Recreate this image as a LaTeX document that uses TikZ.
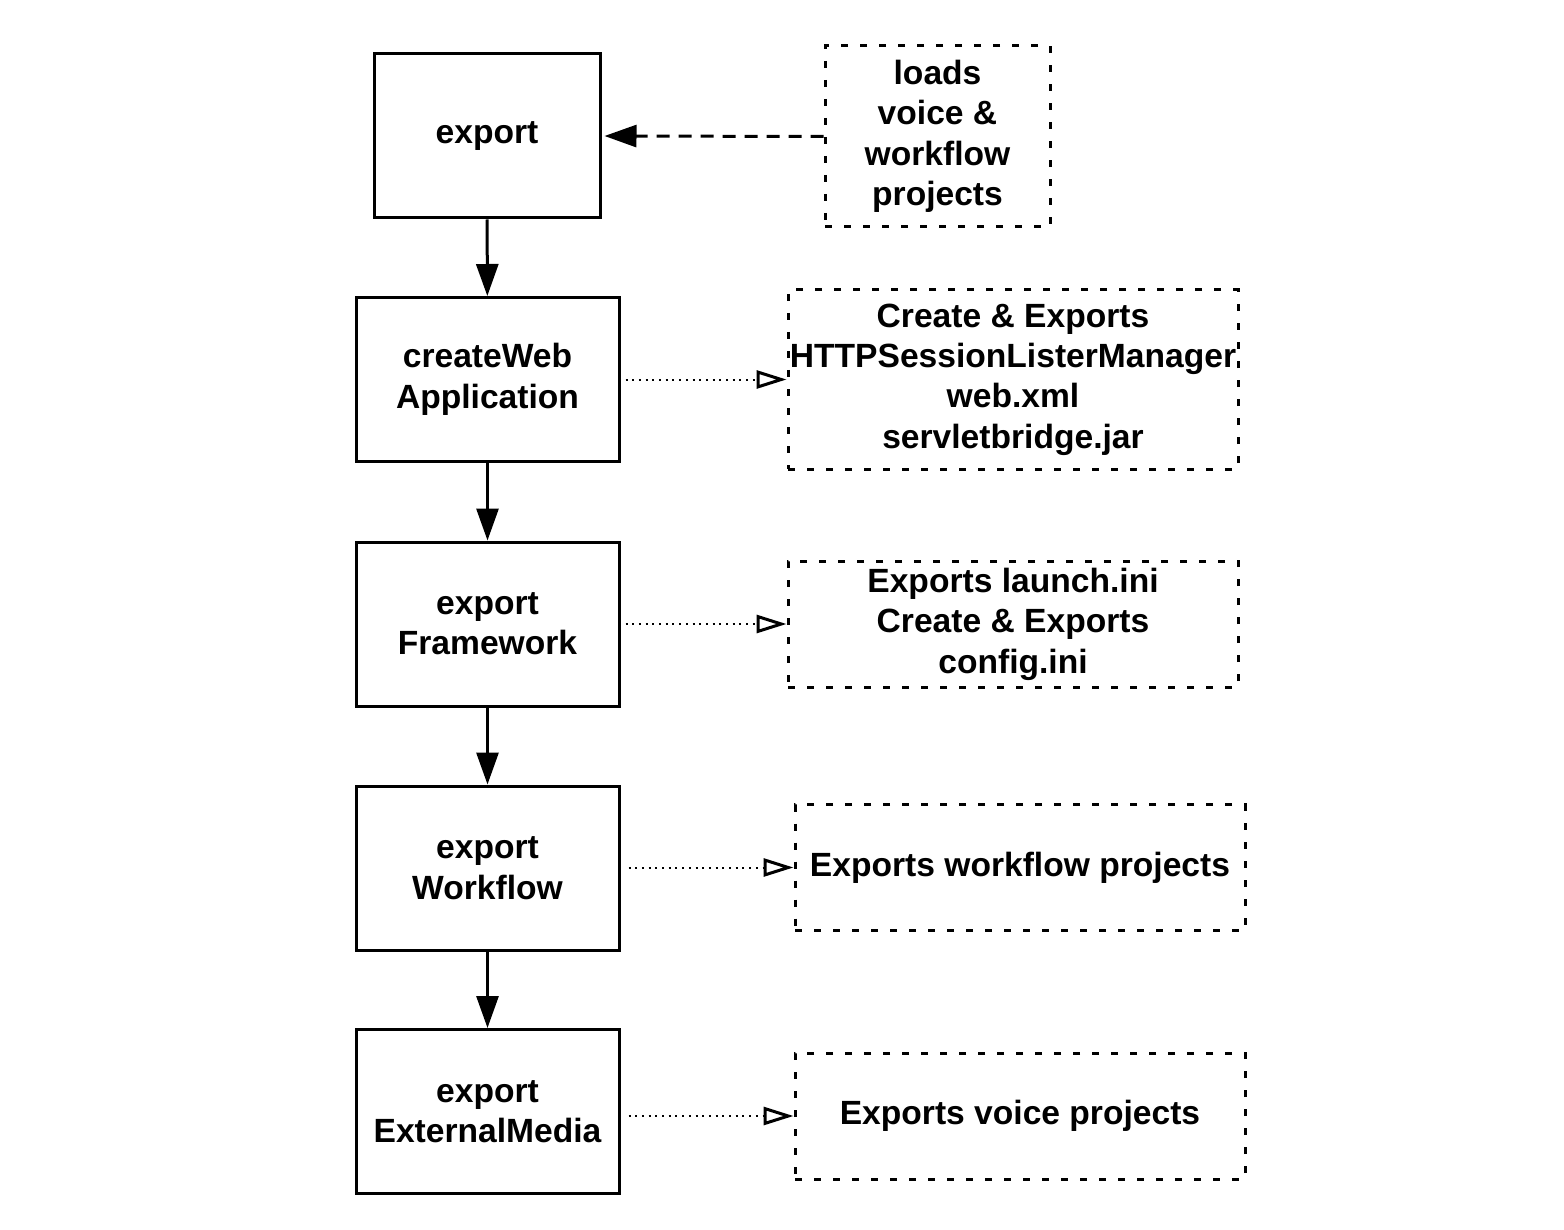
\documentclass[tikz,border=0pt]{standalone}
\usepackage{fontspec}
\setmainfont{Liberation Sans}
\usetikzlibrary{arrows.meta}

\tikzset{
	stepbox/.style={draw, line width=1.5pt, align=center, inner sep=0pt,
		minimum width=131.5pt, minimum height=82pt},
	notebox/.style={draw, line width=1.5pt, dash pattern=on 3.5pt off 6pt,
		align=center, inner sep=0pt, minimum width=225pt, minimum height=63pt},
	flow/.style={line width=1.5pt, -{Triangle[length=16pt,width=11pt]}},
	feeds/.style={line width=1.5pt, dash pattern=on 6.5pt off 4.5pt,
		-{Triangle[length=16pt,width=11pt]}},
	makes/.style={line width=1pt, dash pattern=on 1pt off 2.35pt, shorten <=2.5pt,
		-{Triangle[open,length=15pt,width=9pt,line width=1.5pt]}}
}

\begin{document}
\begin{tikzpicture}[x=0.5pt, y=-0.5pt, font=\bfseries\fontsize{16.8}{20.2}\selectfont]
	\useasboundingbox (0,0) rectangle (1564,1230);
	% main chain
	\node [stepbox, minimum width=113pt] (exp) at (487,136) {export};
	\node [stepbox] (cwa) at (487.5,379.5) {createWeb\\Application};
	\node [stepbox] (efw) at (487.5,624) {export\\Framework};
	\node [stepbox] (ewf) at (487.5,868) {export\\Workflow};
	\node [stepbox] (ema) at (487.5,1111.5) {export\\ExternalMedia};
	% what each step does
	\node [notebox, minimum width=112.5pt, minimum height=90.5pt] (loads) at (937.5,136.5) {loads\\voice \&\\workflow\\projects};
	\node [notebox, minimum height=89.5pt] (cre) at (1013,379.5) {Create \& Exports\\HTTPSessionListerManager\\web.xml\\servletbridge.jar};
	\node [notebox] (ini) at (1013,624) {Exports launch.ini\\Create \& Exports\\config.ini};
	\node [notebox] (wfp) at (1020,867.5) {Exports workflow projects};
	\node [notebox] (vcp) at (1020,1116) {Exports voice projects};
	\draw [flow] (exp) -- (cwa);
	\draw [flow] (cwa) -- (efw);
	\draw [flow] (efw) -- (ewf);
	\draw [flow] (ewf) -- (ema);
	\draw [feeds, shorten >=1.5pt] (loads.west) -- (exp.east);
	\draw [makes] (cre.west -| cwa.east) -- (cre.west);
	\draw [makes] (ini.west -| efw.east) -- (ini.west);
	\draw [makes, shorten <=4pt] (wfp.west -| ewf.east) -- (wfp.west);
	\draw [makes, shorten <=4pt] (vcp.west -| ema.east) -- (vcp.west);
\end{tikzpicture}
\end{document}
